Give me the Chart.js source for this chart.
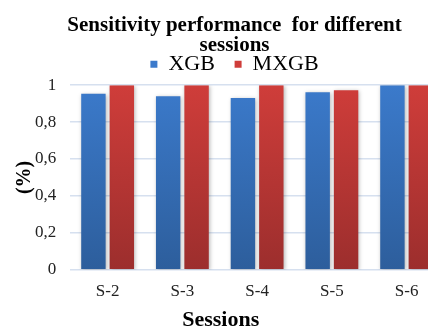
<!DOCTYPE html>
<html>
<head>
<meta charset="utf-8">
<script src="https://cdn.jsdelivr.net/npm/chart.js@4/dist/chart.umd.min.js"></script>
<style>
    html, body { margin: 0; padding: 0; background: #fff; overflow: hidden; }
    #wrap { width: 468px; height: 331px; }
</style>
</head>
<body>
<div id="wrap"><canvas id="chart"></canvas></div>
<script>
const sessions = ['S-2', 'S-3', 'S-4', 'S-5', 'S-6'];
const xgbValues = [0.953, 0.94, 0.93, 0.962, 1.0];
const mxgbValues = [1.0, 1.0, 1.0, 0.973, 1.0];
const yTickLabels = ['0', '0,2', '0,4', '0,6', '0,8', '1'];

const serif = "'Liberation Serif', 'Times New Roman', serif";

// vertical gradient across the plot area, lighter at the top
function barGradient(top, bottom) {
    return (context) => {
        const area = context.chart.chartArea;
        if (!area) return top;
        const g = context.chart.ctx.createLinearGradient(0, area.top, 0, area.bottom);
        g.addColorStop(0, top);
        g.addColorStop(1, bottom);
        return g;
    };
}

// soft shadow under the bars
const barShadow = {
    id: 'barShadow',
    beforeDatasetsDraw(chart) {
        const ctx = chart.ctx;
        ctx.save();
        ctx.shadowColor = 'rgba(0,0,0,0.28)';
        ctx.shadowBlur = 4;
        ctx.shadowOffsetX = 1;
        ctx.shadowOffsetY = 1;
    },
    afterDatasetsDraw(chart) {
        chart.ctx.restore();
    }
};

new Chart(document.getElementById('chart').getContext('2d'), {
    type: 'bar',
    data: {
        labels: sessions,
        datasets: [
            {
                label: 'XGB',
                data: xgbValues,
                backgroundColor: barGradient('#3b7acb', '#2d5e9c'),
                borderWidth: 0
            },
            {
                label: 'MXGB',
                data: mxgbValues,
                backgroundColor: barGradient('#cf3d3a', '#9c2e2d'),
                borderWidth: 0
            }
        ]
    },
    options: {
        responsive: true,
        maintainAspectRatio: false,
        animation: false,
        datasets: {
            bar: { categoryPercentage: 0.76, barPercentage: 0.86 }
        },
        layout: { padding: { left: 25, right: 24, top: 0, bottom: 0 } },
        scales: {
            x: {
                grid: { display: false, tickLength: 12 },
                border: { display: false },
                ticks: { color: '#222', padding: 0, font: { family: serif, size: 17 } }
            },
            y: {
                min: 0,
                max: 1,
                grid: { color: '#d6e0ef', lineWidth: 1.6, tickLength: 14, tickColor: 'rgba(0,0,0,0)' },
                border: { display: false },
                ticks: {
                    stepSize: 0.2,
                    padding: 0,
                    color: '#222',
                    font: { family: serif, size: 17, lineHeight: 0.85 },
                    callback: (value, index) => yTickLabels[index]
                },
                title: {
                    display: true,
                    text: '(%)',
                    color: '#000',
                    padding: { top: -10, bottom: 0 },
                    font: { family: serif, size: 20, weight: 'bold', lineHeight: 1.0 }
                }
            }
        },
        plugins: {
            title: {
                display: true,
                text: ['Sensitivity performance  for different', 'sessions'],
                color: '#000',
                padding: { top: 15.5, bottom: 0 },
                font: { family: serif, size: 21, weight: 'bold', lineHeight: 0.95 }
            },
            subtitle: {
                display: true,
                position: 'bottom',
                // trailing spaces nudge the axis caption a little to the left, as in the original
                text: 'Sessions\u00a0\u00a0\u00a0\u00a0\u00a0',
                color: '#000',
                padding: { top: 8, bottom: 0 },
                font: { family: serif, size: 22, weight: 'bold', lineHeight: 0.95 }
            },
            legend: {
                position: 'top',
                labels: {
                    boxWidth: 7,
                    boxHeight: 7,
                    padding: -2.25,
                    color: '#000',
                    font: { family: serif, size: 22 },
                    // keep a wider gap between the two legend entries
                    generateLabels: (chart) => {
                        const items = Chart.defaults.plugins.legend.labels.generateLabels(chart);
                        items.forEach((item, i) => {
                            if (i < items.length - 1) item.text += '\u2002\u2002';
                        });
                        return items;
                    }
                }
            },
            tooltip: { enabled: false }
        }
    },
    plugins: [barShadow]
});
</script>
</body>
</html>
